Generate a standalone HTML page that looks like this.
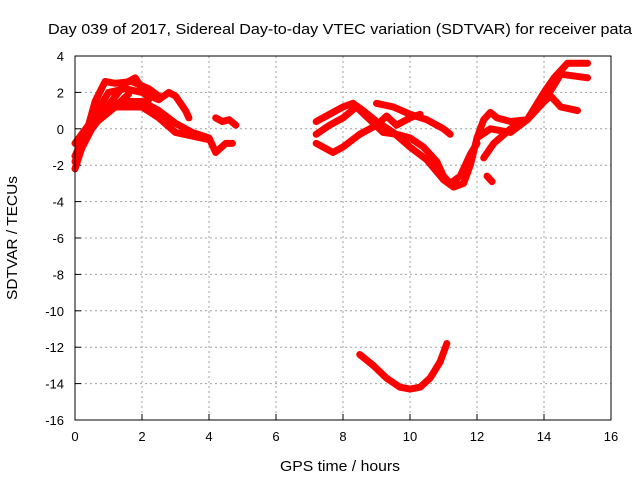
<!DOCTYPE html>
<html><head><meta charset="utf-8"><style>
html,body{margin:0;padding:0;background:#fff;}
svg{display:block;font-family:"Liberation Sans",sans-serif;font-size:13px;}
</style></head><body>
<svg id="chart" width="640" height="480"></svg>
<script>
const xTicks=[0,2,4,6,8,10,12,14,16];
const yTicks=[4,2,0,-2,-4,-6,-8,-10,-12,-14,-16];
const track1=[[0,-2.2],[0.3,-0.5],[0.6,1.5],[0.9,2.6],[1.2,2.5],[1.7,2.6],[2.2,2.2],[2.5,1.8]];
const track2=[[0,-1.8],[0.5,0],[1.0,1.2],[1.5,1.5],[2.0,1.5],[2.5,1.0],[3.0,0.3],[3.5,-0.2],[4.0,-0.5],[4.2,-1.3],[4.5,-0.8],[4.7,-0.8]];
const track3=[[0,-1.5],[0.5,0.5],[1.0,2.0],[1.5,2.2],[2.0,2.0],[2.5,1.6],[2.8,2.0],[3.0,1.8],[3.3,1.0],[3.4,0.6]];
const track4=[[0.1,-1.2],[0.6,0.3],[1.2,1.2],[2.0,1.2],[2.5,0.6],[3.0,-0.2],[3.5,-0.4],[4.0,-0.6]];
const track5=[[0.2,-0.8],[0.8,0.8],[1.5,2.5],[1.8,2.8],[2.2,1.6]];
const track6=[[4.2,0.6],[4.4,0.4],[4.6,0.5],[4.8,0.2]];
const track7=[[0,-0.8],[0.4,0.2],[0.8,1.0],[1.3,1.4],[1.6,1.9]];
const track8=[[7.2,0.4],[7.6,0.8],[8.0,1.2],[8.3,1.4],[8.6,1.0],[9.0,0.4],[9.5,-0.2],[10.0,-1.0],[10.5,-1.7],[11.0,-2.8],[11.3,-3.2],[11.6,-3.0],[11.8,-2.0],[12.0,-0.5],[12.2,0.5],[12.4,0.9],[12.6,0.6],[13.0,0.4],[13.5,0.5],[14.0,2.0],[14.3,2.8],[14.7,3.6],[15.3,3.6]];
const track9=[[7.2,-0.8],[7.7,-1.3],[8.0,-1.0],[8.5,-0.3],[9.0,0.2],[9.3,0.7],[9.6,0.2],[10.0,0.6],[10.3,0.8]];
const track10=[[9.0,1.4],[9.5,1.2],[10.0,0.8],[10.5,0.5],[11.0,0.0],[11.2,-0.3]];
const track11=[[7.2,-0.3],[7.6,0.2],[8.0,0.6],[8.4,1.2],[8.8,0.5],[9.2,-0.2],[9.6,-0.3],[10.0,-0.5],[10.4,-1.0],[10.8,-1.8],[11.0,-2.6],[11.2,-3.0],[11.5,-2.6],[11.8,-1.4],[12.0,-0.8]];
const track12=[[12.2,-1.6],[12.5,-0.8],[13.0,0.0],[13.5,0.5],[14.0,1.5],[14.2,1.8],[14.5,1.2],[15.0,1.0]];
const track13=[[12.3,-2.6],[12.45,-2.9]];
const track14=[[12.0,-0.5],[12.4,0.0],[13.0,-0.2],[13.5,0.5],[14.0,1.5],[14.5,3.0],[15.3,2.8]];
const track15=[[8.5,-12.4],[8.9,-13.0],[9.3,-13.7],[9.7,-14.2],[10.0,-14.3],[10.3,-14.2],[10.6,-13.7],[10.9,-12.8],[11.1,-11.8]];
const tracks=[track1,track2,track3,track4,track5,track6,track7,track8,track9,track10,track11,track12,track13,track14,track15];

const L=75,R=611,T=56,B=420;
const sx=v=>L+(v-0)/16*(R-L);
const sy=v=>T+(4-v)/20*(B-T);
const NS="http://www.w3.org/2000/svg";
const svg=document.getElementById('chart');
function mk(tag,attrs){const e=document.createElementNS(NS,tag);for(const k in attrs)e.setAttribute(k,attrs[k]);svg.appendChild(e);return e;}

xTicks.forEach(t=>{
  const x=sx(t);
  if(t>0&&t<16){const g=mk('line',{x1:x,y1:T,x2:x,y2:B,stroke:'#a0a0a0','stroke-dasharray':'2,3'});
  
  }
  const tk=mk('line',{x1:x,y1:B,x2:x,y2:B-6,stroke:'#000'});
  
  
  const tx=mk('text',{x:x,y:B+21,'text-anchor':'middle'});tx.textContent=t;
  
  
});
yTicks.forEach(t=>{
  const y=sy(t);
  if(t<4&&t>-16){const g=mk('line',{x1:L,y1:y,x2:R,y2:y,stroke:'#a0a0a0','stroke-dasharray':'2,3'});
  
  }
  const tk=mk('line',{x1:L,y1:y,x2:L+6,y2:y,stroke:'#000'});
  
  
  const tx=mk('text',{x:L-11,y:y+5,'text-anchor':'end'});tx.textContent=t;
  
  
});
tracks.forEach((tr,i)=>{
  const p=mk('polyline',{points:tr.map(d=>sx(d[0])+','+sy(d[1])).join(' '),fill:'none',stroke:'#ff0000','stroke-width':7,'stroke-linejoin':'round','stroke-linecap':'round'});
  
  
});
const fr=mk('rect',{x:L,y:T,width:R-L,height:B-T,fill:'none',stroke:'#000'});


</script>
<svg width="640" height="480" style="position:absolute;left:0;top:0;font-family:'Liberation Sans',sans-serif;font-size:15px">
<text x="48" y="34" textLength="584" lengthAdjust="spacingAndGlyphs">Day 039 of 2017, Sidereal Day-to-day VTEC variation (SDTVAR) for receiver pata</text>
<text x="280" y="471" textLength="120" lengthAdjust="spacingAndGlyphs">GPS time / hours</text>
<text transform="translate(17,300) rotate(-90)" textLength="124" lengthAdjust="spacingAndGlyphs">SDTVAR / TECUs</text>
</svg>
</body></html>
